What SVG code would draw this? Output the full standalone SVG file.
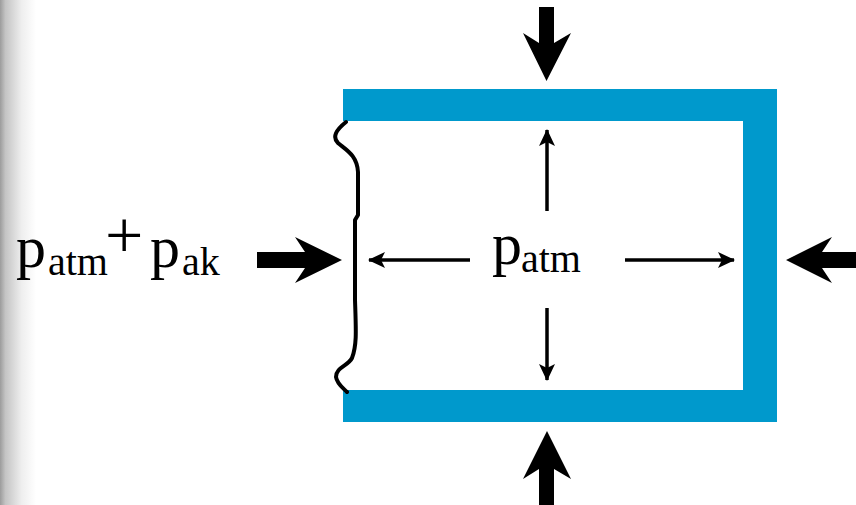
<svg xmlns="http://www.w3.org/2000/svg" width="856" height="505" viewBox="0 0 856 505">
  <defs>
    <linearGradient id="shade" x1="0" y1="0" x2="1" y2="0">
      <stop offset="0" stop-color="#9c9c9c"/>
      <stop offset="0.15" stop-color="#c4c4c4"/>
      <stop offset="0.6" stop-color="#eeeeee"/>
      <stop offset="1" stop-color="#ffffff"/>
    </linearGradient>
    <marker id="head" viewBox="0 0 17 16" refX="16" refY="8" markerWidth="17" markerHeight="16" markerUnits="userSpaceOnUse" orient="auto">
      <path d="M0,0 L17,8 L0,16 L4,8 Z" fill="#000"/>
    </marker>
    <style>
      .wall { fill: #0099cc; }
      .big { fill: #000; }
      .thin { stroke: #000; stroke-width: 3.5; fill: none; marker-end: url(#head); }
      .brace { stroke: #000; stroke-width: 4; fill: none; stroke-linecap: round; stroke-linejoin: round; }
      text { font-family: "Liberation Serif", serif; fill: #000; }
    </style>
  </defs>

  <rect x="0" y="0" width="856" height="505" fill="#ffffff"/>
  <rect x="0" y="0" width="36" height="505" fill="url(#shade)"/>

  <g id="vessel">
    <path class="wall" d="M343,89 L777,89 L777,422 L343,422 L343,390 L743,390 L743,121 L343,121 Z"/>
  </g>

  <g id="brace">
    <path class="brace" d="M346,122 C336,130 332,137 338,143 C346,150 357,155 358,172 L358,215 L355,220 L355,300 C356,330 357,345 352,358 C348,366 336,367 336,377 C337,384 343,388 347,392"/>
  </g>

  <g id="label-left">
    <text font-size="60" y="267"><tspan x="16">p</tspan><tspan font-size="40" x="48" y="275">atm</tspan><tspan x="105" y="258" font-size="68">+</tspan><tspan x="150" y="267">p</tspan><tspan font-size="40" x="182" y="275">ak</tspan></text>
  </g>

  <g id="label-center">
    <text font-size="60" y="264"><tspan x="492">p</tspan><tspan font-size="40" x="521" y="272">atm</tspan></text>
  </g>

  <g id="connectors">
    <polygon id="arrow-top" class="big" points="539,7 554,7 554,43 571,33 546.5,81 523,33 539,43"/>
    <polygon id="arrow-bottom" class="big" points="539,505 554,505 554,469 571,479 547,431 523,479 539,469"/>
    <polygon id="arrow-right" class="big" points="856,252 822,252 832,237 786,260 832,283 822,268 856,268"/>
    <polygon id="arrow-left" class="big" points="257,252 305,252 295,237 342,260 295,283 305,268 257,268"/>
    <line class="thin" x1="547" y1="211" x2="547" y2="130"/>
    <line class="thin" x1="547" y1="308" x2="547" y2="380"/>
    <line class="thin" x1="470" y1="260" x2="369" y2="260"/>
    <line class="thin" x1="625" y1="260" x2="734" y2="260"/>
  </g>
</svg>
